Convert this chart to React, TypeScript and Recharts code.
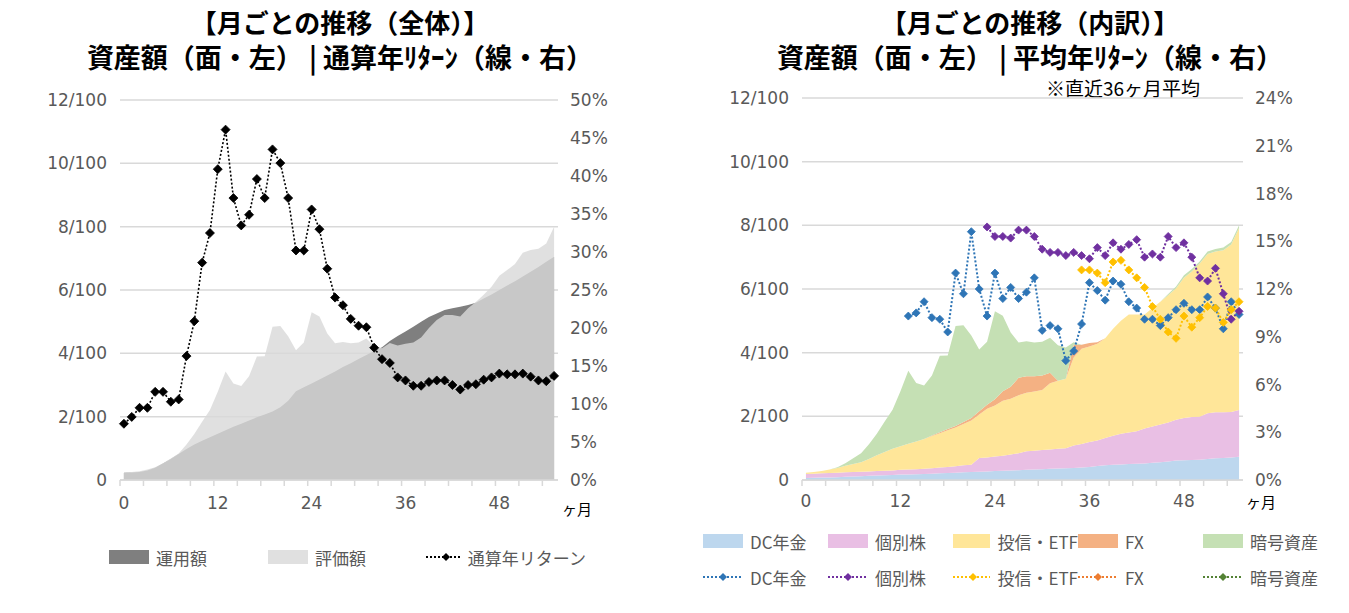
import React from 'react';
import { ComposedChart, Area, Line, XAxis, YAxis, CartesianGrid } from 'recharts';

// 月（0〜55ヶ月）
const MONTHS = [
  0, 1, 2, 3, 4, 5, 6, 7, 8, 9, 10, 11, 12, 13, 14, 15, 16, 17, 18, 19,
  20, 21, 22, 23, 24, 25, 26, 27, 28, 29, 30, 31, 32, 33, 34, 35, 36, 37, 38, 39,
  40, 41, 42, 43, 44, 45, 46, 47, 48, 49, 50, 51, 52, 53, 54, 55,
];

// 全体：運用額・評価額（/100）、通算年リターン（%）
const UNYOU = [
  0.23, 0.24, 0.25, 0.3, 0.39, 0.52, 0.66, 0.82, 0.98, 1.12,
  1.24, 1.35, 1.46, 1.57, 1.68, 1.78, 1.88, 1.98, 2.07, 2.16,
  2.3, 2.5, 2.8, 2.93, 3.05, 3.17, 3.3, 3.43, 3.57, 3.69,
  3.82, 3.95, 4.07, 4.19, 4.39, 4.55, 4.69, 4.84, 5.0, 5.15,
  5.26, 5.37, 5.42, 5.47, 5.53, 5.6, 5.73, 5.86, 6.0, 6.14,
  6.28, 6.43, 6.58, 6.73, 6.89, 7.05,
];
const HYOUKA = [
  0.23, 0.25, 0.28, 0.33, 0.4, 0.53, 0.68, 0.84, 1.12, 1.45,
  1.84, 2.21, 2.79, 3.43, 3.05, 2.97, 3.28, 3.9, 3.91, 4.84,
  4.86, 4.54, 4.1, 4.34, 5.3, 5.16, 4.63, 4.32, 4.36, 4.32,
  4.34, 4.47, 4.23, 4.16, 4.33, 4.25, 4.3, 4.34, 4.5, 4.8,
  5.05, 5.21, 5.21, 5.16, 5.42, 5.62, 5.85, 6.1, 6.45, 6.63,
  6.82, 7.18, 7.26, 7.3, 7.47, 8.0,
];
const TSUSAN_RET = [
  7.4, 8.3, 9.5, 9.5, 11.6, 11.6, 10.3, 10.6, 16.3, 20.9,
  28.6, 32.5, 40.9, 46.1, 37.1, 33.5, 34.9, 39.6, 37.1, 43.5,
  41.7, 37.1, 30.2, 30.2, 35.6, 33.0, 27.8, 24.0, 23.0, 21.2,
  20.3, 20.1, 17.4, 15.9, 15.4, 13.5, 13.1, 12.4, 12.4, 12.9,
  13.1, 13.1, 12.5, 11.9, 12.5, 12.6, 13.2, 13.5, 14.0, 13.9,
  13.9, 14.0, 13.6, 13.1, 13.0, 13.7,
];

// 内訳：資産額（/100）
const DC = [
  0.06, 0.07, 0.08, 0.08, 0.09, 0.1, 0.11, 0.12, 0.13, 0.14,
  0.15, 0.16, 0.17, 0.17, 0.18, 0.19, 0.2, 0.21, 0.22, 0.23,
  0.24, 0.25, 0.26, 0.27, 0.28, 0.29, 0.3, 0.31, 0.32, 0.33,
  0.34, 0.35, 0.36, 0.37, 0.38, 0.39, 0.41, 0.44, 0.46, 0.48,
  0.49, 0.5, 0.51, 0.52, 0.54, 0.56, 0.58, 0.61, 0.62, 0.63,
  0.64, 0.66, 0.68, 0.69, 0.71, 0.73,
];
const KOBETSU = [
  0.13, 0.13, 0.13, 0.14, 0.14, 0.14, 0.14, 0.14, 0.14, 0.14,
  0.14, 0.14, 0.15, 0.16, 0.16, 0.16, 0.17, 0.18, 0.19, 0.2,
  0.22, 0.23, 0.43, 0.44, 0.46, 0.47, 0.5, 0.53, 0.58, 0.59,
  0.6, 0.61, 0.62, 0.63, 0.7, 0.74, 0.78, 0.8, 0.86, 0.91,
  0.96, 0.99, 1.02, 1.1, 1.14, 1.18, 1.23, 1.28, 1.33, 1.35,
  1.35, 1.44, 1.45, 1.44, 1.43, 1.47,
];
const TOSHIN = [
  0.04, 0.05, 0.07, 0.11, 0.15, 0.21, 0.25, 0.3, 0.39, 0.5,
  0.59, 0.68, 0.74, 0.81, 0.87, 0.94, 1.01, 1.08, 1.15, 1.22,
  1.3, 1.39, 1.37, 1.53, 1.6, 1.73, 1.75, 1.82, 1.84, 1.86,
  1.89, 2.08, 2.14, 2.18, 2.77, 2.99, 3.0, 3.04, 3.13, 3.36,
  3.55, 3.71, 3.67, 3.58, 3.72, 3.86, 3.99, 4.13, 4.4, 4.57,
  4.81, 5.0, 5.05, 5.09, 5.26, 5.72,
];
const FX = [
  0, 0, 0, 0, 0, 0, 0, 0, 0, 0,
  0, 0, 0, 0, 0, 0, 0.02, 0.03, 0.04, 0.05,
  0.06, 0.08, 0.1, 0.12, 0.2, 0.3, 0.38, 0.55, 0.52, 0.48,
  0.45, 0.33, 0, 0, 0.4, 0.13, 0.11, 0.05, 0, 0,
  0, 0, 0, 0, 0, 0, 0, 0, 0, 0,
  0, 0, 0, 0, 0, 0,
];
const CRYPTO = [
  0, 0, 0, 0, 0.02, 0.08, 0.18, 0.28, 0.46, 0.67,
  0.96, 1.23, 1.73, 2.29, 1.84, 1.68, 1.88, 2.4, 2.31, 3.14,
  3.04, 2.59, 1.94, 1.98, 2.76, 2.37, 1.7, 1.11, 1.1, 1.06,
  1.06, 1.1, 1.11, 0.98, 0.08, 0, 0, 0, 0, 0,
  0, 0, 0, 0, 0, 0, 0.04, 0.06, 0.08, 0.08,
  0.06, 0.08, 0.08, 0.08, 0.08, 0.08,
];

// 内訳：平均年リターン（%、直近36ヶ月平均）
const DC_RET = [
  null, null, null, null, null, null, null, null, null, null,
  null, null, null, 10.3, 10.5, 11.2, 10.2, 10.1, 9.3, 13.0,
  11.7, 15.6, 12.0, 10.3, 13.0, 11.4, 12.1, 11.4, 11.8, 12.7,
  9.4, 9.7, 9.5, 7.5, 8.1, 9.8, 12.4, 11.9, 11.3, 12.5,
  12.3, 11.2, 10.8, 10.1, 10.1, 9.7, 10.2, 10.7, 11.1, 10.7,
  10.7, 11.5, 10.8, 9.5, 11.2, 10.4,
];
const KOBETSU_RET = [
  null, null, null, null, null, null, null, null, null, null,
  null, null, null, null, null, null, null, null, null, null,
  null, null, null, 15.9, 15.3, 15.3, 15.2, 15.7, 15.7, 15.3,
  14.5, 14.3, 14.3, 14.1, 14.3, 14.1, 13.9, 14.6, 14.1, 14.9,
  14.5, 14.8, 15.1, 14.0, 14.2, 14.0, 15.3, 14.6, 14.9, 14.0,
  12.7, 12.5, 13.3, 11.7, 10.1, 10.6,
];
const TOSHIN_RET = [
  null, null, null, null, null, null, null, null, null, null,
  null, null, null, null, null, null, null, null, null, null,
  null, null, null, null, null, null, null, null, null, null,
  null, null, null, null, null, 13.2, 13.2, 13.0, 12.4, 13.7,
  13.8, 13.2, 12.7, 12.1, 10.9, 10.1, 9.3, 8.9, 10.3, 9.6,
  10.2, 10.9, 10.8, 9.9, 10.7, 11.2,
];
const FX_RET: (number | null)[] = [];
const CRYPTO_RET: (number | null)[] = [];

const X_TICKS = [-0.5, 2.5, 5.5, 8.5, 11.5, 14.5, 17.5, 20.5, 23.5, 26.5, 29.5, 32.5, 35.5, 38.5, 41.5, 44.5, 47.5, 50.5, 53.5];
const AMOUNT_TICKS = [0, 2, 4, 6, 8, 10, 12];
const TOTAL_PCT_TICKS = [0, 5, 10, 15, 20, 25, 30, 35, 40, 45, 50];
const PART_PCT_TICKS = [0, 3, 6, 9, 12, 15, 18, 21, 24];

const FONT_JP = '"Noto Sans CJK JP", "Noto Sans", sans-serif';
const FONT_NUM = '"DejaVu Sans", "Noto Sans CJK JP", sans-serif';
const GRID = '#d9d9d9';
const TEXT = '#595959';

const totalData = MONTHS.map((m, i) => ({
  m,
  unyou: UNYOU[i],
  hyouka: HYOUKA[i],
  ret: TSUSAN_RET[i],
}));

const partData = MONTHS.map((m, i) => ({
  m,
  dc: DC[i],
  kobetsu: KOBETSU[i],
  toshin: TOSHIN[i],
  fx: FX[i],
  crypto: CRYPTO[i],
  dcRet: DC_RET[i],
  kobetsuRet: KOBETSU_RET[i],
  toshinRet: TOSHIN_RET[i],
  fxRet: FX_RET[i] ?? null,
  cryptoRet: CRYPTO_RET[i] ?? null,
}));

const AREAS = [
  { key: 'dc', name: 'DC年金', color: '#bdd7ee' },
  { key: 'kobetsu', name: '個別株', color: '#e9bfe4' },
  { key: 'toshin', name: '投信・ETF', color: '#ffe699' },
  { key: 'fx', name: 'FX', color: '#f4b183' },
  { key: 'crypto', name: '暗号資産', color: '#c5e0b4' },
];
const LINES = [
  { key: 'dcRet', name: 'DC年金', color: '#2e75b6' },
  { key: 'kobetsuRet', name: '個別株', color: '#7030a0' },
  { key: 'toshinRet', name: '投信・ETF', color: '#ffc000' },
  { key: 'fxRet', name: 'FX', color: '#ed7d31' },
  { key: 'cryptoRet', name: '暗号資産', color: '#548235' },
];

function diamond(color: string, r: number) {
  return (p: any) => {
    const { cx, cy, index, value } = p;
    if (cx == null || cy == null || value == null) return <g key={`d-${index}`} />;
    return (
      <path
        key={`d-${index}`}
        d={`M${cx},${cy - r}L${cx + r},${cy}L${cx},${cy + r}L${cx - r},${cy}Z`}
        fill={color}
        stroke={color}
        strokeWidth={0.8}
      />
    );
  };
}

// 目盛りは3ヶ月ごとの境界、ラベルは12ヶ月ごと（区間の中央）
function MonthTick(props: any) {
  const { x, y, payload, half } = props;
  const v = payload.value + 0.5;
  if (v % 12 !== 0) return null;
  return (
    <text x={x + half} y={y} dy="0.71em" textAnchor="middle" fill={TEXT} fontSize={17} fontFamily={FONT_NUM}>
      {v}
    </text>
  );
}

const amountFmt = (v: number) => (v === 0 ? '0' : `${v}/100`);
const pctFmt = (v: number) => `${v}%`;

function Swatch({ color, label, width }: { color: string; label: string; width: number }) {
  return (
    <div style={{ display: 'flex', alignItems: 'center', width }}>
      <svg width={40} height={14}>
        <rect x={0} y={0} width={40} height={14} fill={color} />
      </svg>
      <span style={{ marginLeft: 7, fontSize: 17, color: TEXT, fontFamily: FONT_JP, whiteSpace: 'nowrap' }}>{label}</span>
    </div>
  );
}

function LineKey({ color, label, width }: { color: string; label: string; width: number }) {
  return (
    <div style={{ display: 'flex', alignItems: 'center', width }}>
      <svg width={40} height={14}>
        <line x1={0} y1={7} x2={40} y2={7} stroke={color} strokeWidth={2} strokeDasharray="2 2" />
        <path d="M20,3L24,7L20,11L16,7Z" fill={color} />
      </svg>
      <span style={{ marginLeft: 7, fontSize: 17, color: TEXT, fontFamily: FONT_JP, whiteSpace: 'nowrap' }}>{label}</span>
    </div>
  );
}

const titleStyle: React.CSSProperties = {
  position: 'absolute',
  fontFamily: FONT_JP,
  fontWeight: 700,
  color: '#000',
  textAlign: 'center',
  whiteSpace: 'nowrap',
  lineHeight: '35px',
};

export default function App() {
  return (
    <div style={{ position: 'absolute', left: 0, top: 0, width: 1349, height: 613, background: '#fff', overflow: 'hidden' }}>
      {/* 左：全体 */}
      <div style={{ ...titleStyle, left: 40, width: 600, top: 4 }}>
        <div style={{ fontSize: 26 }}>【月ごとの推移（全体）】</div>
        <div style={{ fontSize: 27 }}>資産額（面・左） | 通算年ﾘﾀｰﾝ（線・右）</div>
      </div>
      <div style={{ position: 'absolute', left: 0, top: 90 }}>
        <ComposedChart width={660} height={432} data={totalData} margin={{ top: 10, right: 12, bottom: 0, left: 20 }}>
          <CartesianGrid yAxisId="l" vertical={false} stroke={GRID} strokeWidth={1.5} />
          <XAxis
            dataKey="m"
            type="number"
            domain={[-0.5, 55.5]}
            ticks={X_TICKS}
            interval={0}
            height={42}
            tickSize={6}
            tickMargin={11}
            axisLine={{ stroke: GRID, strokeWidth: 1.5 }}
            tickLine={{ stroke: GRID, strokeWidth: 1.5 }}
            tick={<MonthTick half={3.9} />}
          />
          <YAxis
            yAxisId="l"
            orientation="left"
            width={100}
            domain={[0, 12]}
            ticks={AMOUNT_TICKS}
            tickFormatter={amountFmt}
            axisLine={false}
            tickLine={false}
            tickMargin={7}
            tick={{ fill: TEXT, fontSize: 17, fontFamily: FONT_NUM }}
          />
          <YAxis
            yAxisId="r"
            orientation="right"
            width={90}
            domain={[0, 50]}
            ticks={TOTAL_PCT_TICKS}
            tickFormatter={pctFmt}
            axisLine={false}
            tickLine={false}
            tickMargin={6}
            tick={{ fill: TEXT, fontSize: 17, fontFamily: FONT_NUM, textAnchor: 'start' }}
          />
          <Area yAxisId="l" dataKey="unyou" name="運用額" type="linear" fill="#7f7f7f" fillOpacity={1} stroke="none" isAnimationActive={false} />
          <Area yAxisId="l" dataKey="hyouka" name="評価額" type="linear" fill="#d9d9d9" fillOpacity={0.81} stroke="none" isAnimationActive={false} />
          <Line
            yAxisId="r"
            dataKey="ret"
            name="通算年リターン"
            type="linear"
            stroke="#000"
            strokeWidth={1.6}
            strokeDasharray="2 2"
            dot={diamond('#000', 4.5)}
            isAnimationActive={false}
          />
        </ComposedChart>
      </div>
      <div style={{ position: 'absolute', left: 562, top: 498, fontSize: 15, fontFamily: FONT_JP, color: '#000' }}>ヶ月</div>
      <div style={{ position: 'absolute', left: 109, top: 546, display: 'flex', height: 22, alignItems: 'center' }}>
        <Swatch color="#7f7f7f" label="運用額" width={159} />
        <Swatch color="#e0e0e0" label="評価額" width={158} />
        <LineKey color="#000" label="通算年リターン" width={160} />
      </div>

      {/* 右：内訳 */}
      <div style={{ ...titleStyle, left: 730, width: 600, top: 4 }}>
        <div style={{ fontSize: 26 }}>【月ごとの推移（内訳）】</div>
        <div style={{ fontSize: 27 }}>資産額（面・左） | 平均年ﾘﾀｰﾝ（線・右）</div>
      </div>
      <div style={{ position: 'absolute', left: 1046, top: 74, fontSize: 19, fontFamily: FONT_JP, color: '#000', whiteSpace: 'nowrap' }}>
        ※直近36ヶ月平均
      </div>
      <div style={{ position: 'absolute', left: 690, top: 88 }}>
        <ComposedChart width={659} height={434} data={partData} margin={{ top: 10, right: 16, bottom: 0, left: 12 }}>
          <CartesianGrid yAxisId="l" vertical={false} stroke={GRID} strokeWidth={1.5} />
          <XAxis
            dataKey="m"
            type="number"
            domain={[-0.5, 55.5]}
            ticks={X_TICKS}
            interval={0}
            height={42}
            tickSize={6}
            tickMargin={9}
            axisLine={{ stroke: GRID, strokeWidth: 1.5 }}
            tickLine={{ stroke: GRID, strokeWidth: 1.5 }}
            tick={<MonthTick half={3.9} />}
          />
          <YAxis
            yAxisId="l"
            orientation="left"
            width={100}
            domain={[0, 12]}
            ticks={AMOUNT_TICKS}
            tickFormatter={amountFmt}
            axisLine={false}
            tickLine={false}
            tickMargin={7}
            tick={{ fill: TEXT, fontSize: 17, fontFamily: FONT_NUM }}
          />
          <YAxis
            yAxisId="r"
            orientation="right"
            width={90}
            domain={[0, 24]}
            ticks={PART_PCT_TICKS}
            tickFormatter={pctFmt}
            axisLine={false}
            tickLine={false}
            tickMargin={6}
            tick={{ fill: TEXT, fontSize: 17, fontFamily: FONT_NUM, textAnchor: 'start' }}
          />
          {AREAS.map((a) => (
            <Area
              key={a.key}
              yAxisId="l"
              dataKey={a.key}
              name={a.name}
              stackId="s"
              type="linear"
              fill={a.color}
              fillOpacity={1}
              stroke="none"
              isAnimationActive={false}
            />
          ))}
          {LINES.map((l) => (
            <Line
              key={l.key}
              yAxisId="r"
              dataKey={l.key}
              name={l.name}
              type="linear"
              stroke={l.color}
              strokeWidth={2}
              strokeDasharray="2 2"
              dot={diamond(l.color, 4)}
              isAnimationActive={false}
            />
          ))}
        </ComposedChart>
      </div>
      <div style={{ position: 'absolute', left: 1246, top: 491, fontSize: 15, fontFamily: FONT_JP, color: '#000' }}>ヶ月</div>
      <div style={{ position: 'absolute', left: 703, top: 530, display: 'flex', height: 22, alignItems: 'center' }}>
        {AREAS.map((a) => (
          <Swatch key={a.key} color={a.color} label={a.name} width={125} />
        ))}
      </div>
      <div style={{ position: 'absolute', left: 703, top: 566, display: 'flex', height: 22, alignItems: 'center' }}>
        {LINES.map((l) => (
          <LineKey key={l.key} color={l.color} label={l.name} width={125} />
        ))}
      </div>
    </div>
  );
}
